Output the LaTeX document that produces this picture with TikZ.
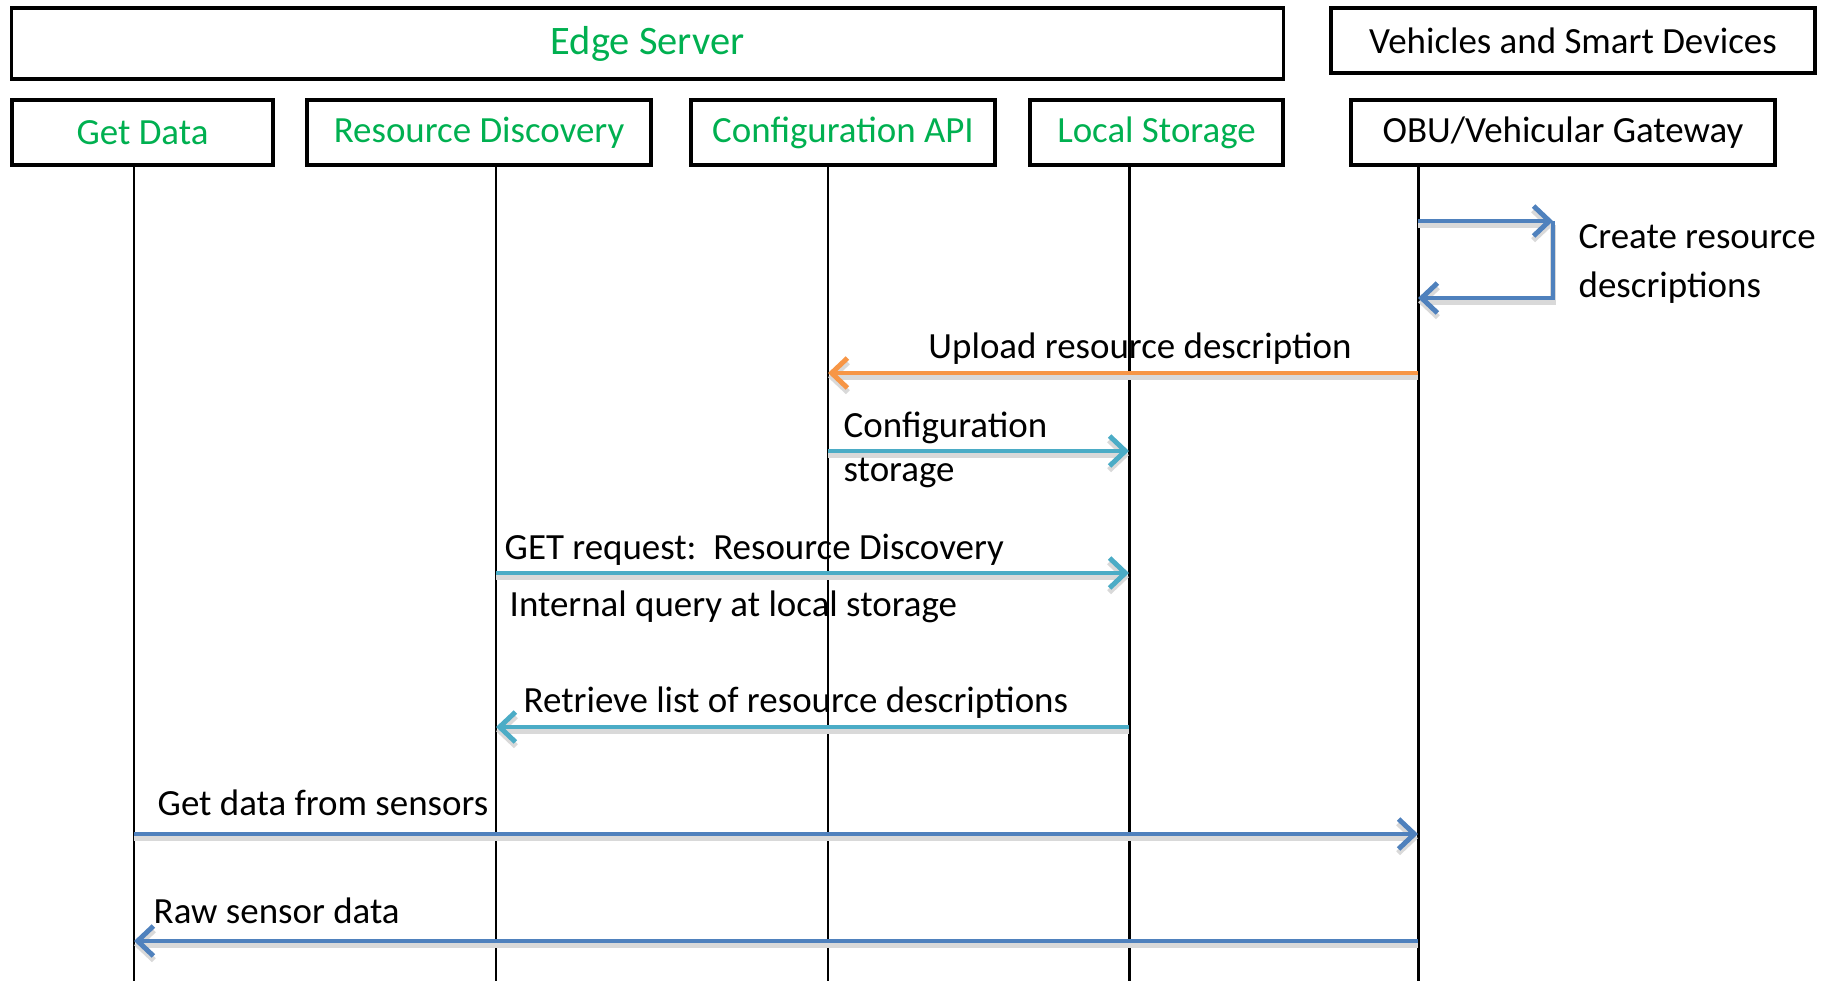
\documentclass[tikz,border=0pt]{standalone}
\usepackage{fontspec}
\setmainfont{Carlito}
\usetikzlibrary{arrows.meta}
\definecolor{headGreen}{RGB}{0,176,80}
\definecolor{msgBlue}{RGB}{79,129,189}
\definecolor{msgCyan}{RGB}{75,172,198}
\definecolor{msgOrange}{RGB}{247,150,70}
\begin{document}
\begin{tikzpicture}[x=0.01cm, y=-0.01cm,
  box/.style={draw, line width=1pt, inner sep=0pt, minimum height=0.65cm, font=\fontsize{10.5}{12}\selectfont},
  lifeline/.style={line width=0.85pt},
  msg/.style={line width=1.4pt, -{Straight Barb[length=4.5pt, width=8.5pt]},
    preaction={draw=black!15, line width=1.6pt, transform canvas={yshift=-1.2pt}}},
  lbl/.style={inner sep=0pt, font=\fontsize{10.5}{12}\selectfont, align=left}]
\useasboundingbox (0,0) rectangle (1829,981);

% Header boxes
\node[box, minimum width=12.71cm, minimum height=0.71cm, text=headGreen, font=\fontsize{11.5}{13}\selectfont] (edge) at (647.5,43.5) {Edge Server};
\node[box, minimum width=4.84cm] (veh) at (1573,40.5) {Vehicles and Smart Devices};

% Participants
\node[box, minimum width=2.61cm, text=headGreen] (getdata) at (142.5,132.5) {Get Data};
\node[box, minimum width=3.44cm, text=headGreen] (resdisc) at (479,132.5) {Resource Discovery};
\node[box, minimum width=3.04cm, text=headGreen] (confapi) at (843,132.5) {Configuration API};
\node[box, minimum width=2.53cm, text=headGreen] (locstore) at (1156.5,132.5) {Local Storage};
\node[box, minimum width=4.24cm] (obu) at (1563,132.5) {OBU/Vehicular Gateway};

% Lifelines
\foreach \n/\x in {getdata/134, resdisc/496, confapi/828, locstore/1129, obu/1418} {
  \coordinate (\n-top) at (\x,165);
  \coordinate (\n-bot) at (\x,981);
  \draw[lifeline] (\n-top) -- (\n-bot);
}

% Message anchors on the lifelines
\coordinate (loop-a) at (1418,221);
\coordinate (loop-b) at (1553,221);
\coordinate (loop-c) at (1418,298);
\coordinate (up-obu) at (1418,373);
\coordinate (up-conf) at (828,373);
\coordinate (cs-conf) at (828,451);
\coordinate (cs-loc) at (1129,451);
\coordinate (get-rd) at (496,573);
\coordinate (get-loc) at (1129,573);
\coordinate (ret-loc) at (1129,727);
\coordinate (ret-rd) at (496,727);
\coordinate (sen-gd) at (134,834);
\coordinate (sen-obu) at (1418,834);
\coordinate (raw-obu) at (1418,941);
\coordinate (raw-gd) at (134,941);

% Self message
\draw[msg, msgBlue] (loop-a) -- (loop-b);
\draw[msg, msgBlue] (loop-b) |- (loop-c);
\node[lbl, anchor=west] (createlbl) at (1578,264) {Create resource\\[2pt]descriptions};

% Upload
\draw[msg, msgOrange] (up-obu) -- (up-conf);
\node[lbl] (uplbl) at (1140,349) {Upload resource description};

% Configuration storage
\draw[msg, msgCyan] (cs-conf) -- (cs-loc);
\node[lbl, anchor=west] (cslbl1) at (843,428) {Configuration};
\node[lbl, anchor=west] (cslbl2) at (843,473) {storage};

% GET request
\draw[msg, msgCyan] (get-rd) -- (get-loc);
\node[lbl, anchor=west] (getlbl1) at (504,550) {GET request:\ \ Resource Discovery};
\node[lbl, anchor=west] (getlbl2) at (509,607) {Internal query at local storage};

% Retrieve list
\draw[msg, msgCyan] (ret-loc) -- (ret-rd);
\node[lbl, anchor=west] (retlbl) at (523,703) {Retrieve list of resource descriptions};

% Sensor data
\draw[msg, msgBlue] (sen-gd) -- (sen-obu);
\node[lbl, anchor=west] (senlbl) at (157,803) {Get data from sensors};
\draw[msg, msgBlue] (raw-obu) -- (raw-gd);
\node[lbl, anchor=west] (rawlbl) at (153,911) {Raw sensor data};
\end{tikzpicture}
\end{document}
